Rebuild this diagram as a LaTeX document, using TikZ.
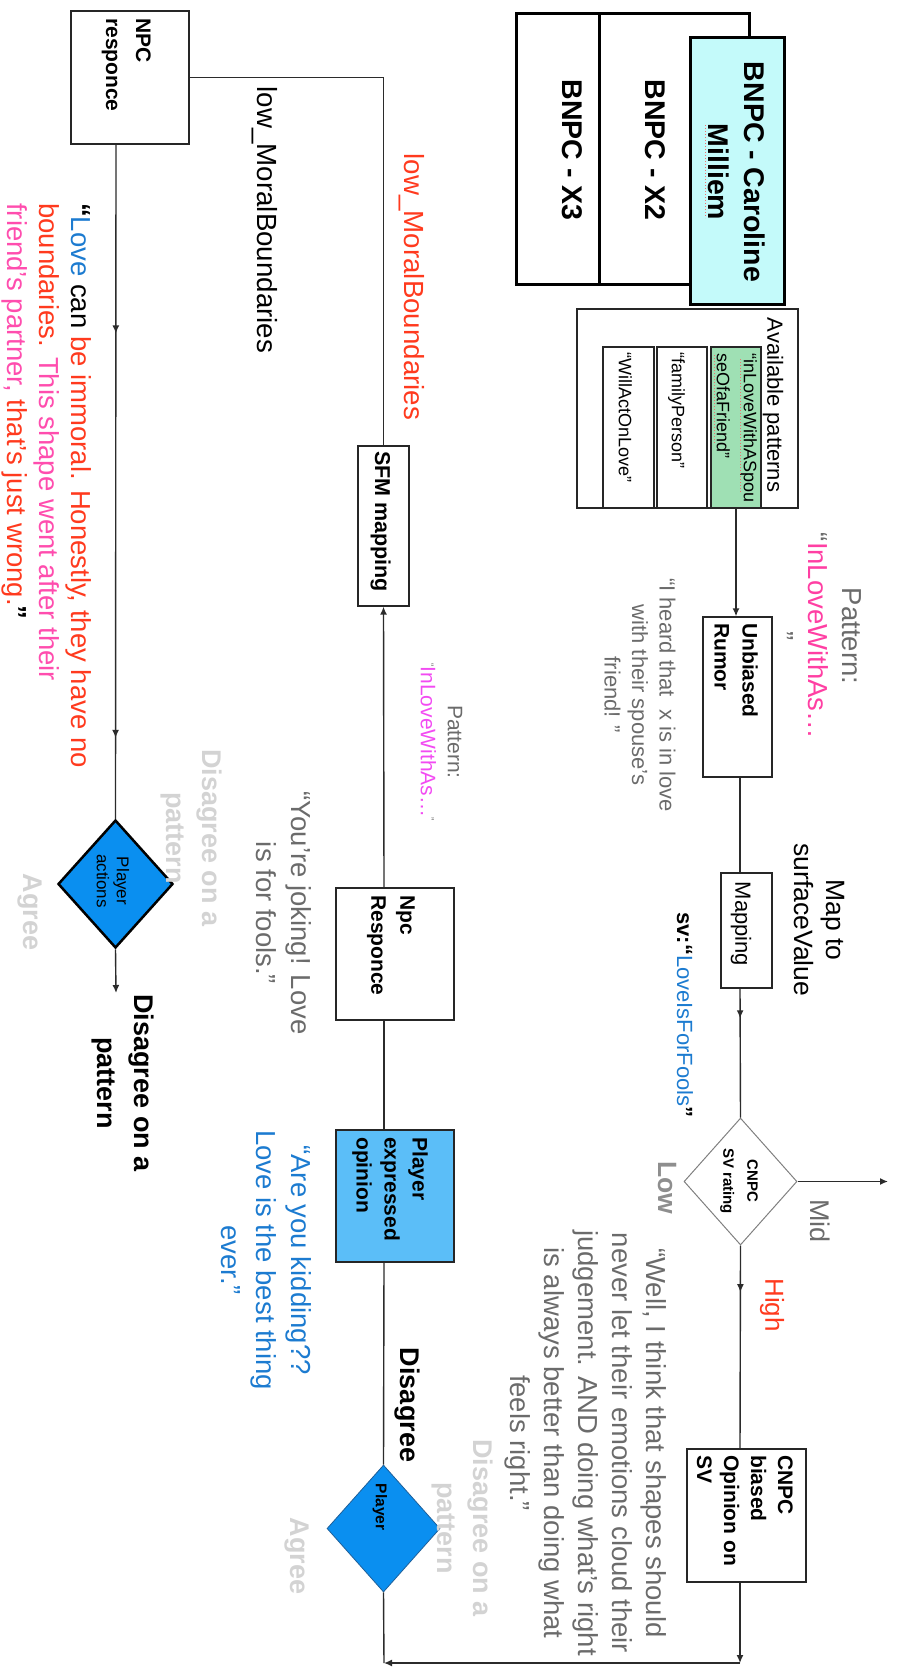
\documentclass[tikz,border=0pt]{standalone}
\usepackage{fontspec}
\setmainfont{Liberation Sans}
\usepackage{xcolor}
\definecolor{lineink}{HTML}{2B2B2B}
\definecolor{talkgray}{HTML}{6B6B6B}
\definecolor{fadegray}{HTML}{D3D3D3}
\definecolor{lowgray}{HTML}{8E8E8E}
\definecolor{hotred}{HTML}{FF3A1E}
\definecolor{hotpink}{HTML}{FF3FA3}
\definecolor{softpink}{HTML}{FF4DAE}
\definecolor{violetpink}{HTML}{F24BF2}
\definecolor{loveblue}{HTML}{1C7BD0}
\definecolor{bnpccyan}{HTML}{C4FAFA}
\definecolor{pickgreen}{HTML}{9FE0B4}
\definecolor{opinblue}{HTML}{5BBEF8}
\definecolor{playblue}{HTML}{0A8FF0}
\definecolor{playedge}{HTML}{1F5F99}
\definecolor{spellred}{HTML}{F07070}
\usepackage{tikz}
\usetikzlibrary{
  arrows.meta,
  shapes.geometric,
  decorations.markings,
}
\newcommand{\sizeat}[2]{\fontsize{#1}{#2}\selectfont}
\newcommand{\tinyquote}[1]{\raisebox{6pt}{\sizeat{10}{10}#1}}

\begin{document}
\begin{tikzpicture}[x=1pt, y=-1pt,
  >={Latex[length=8pt,width=7pt]},
  bnpc/.style={draw=black, line width=3pt, inner sep=0pt},
  stepbox/.style={draw=black!85, line width=1.3pt, fill=white, inner sep=0pt},
  decide/.style={diamond, inner sep=0pt},
  boxtext/.style={rotate=-90, anchor=north west, align=left, inner sep=0pt,
    font=\bfseries\sizeat{21}{28}},
  talk/.style={rotate=-90, align=center, inner sep=0pt, text=talkgray,
    font=\sizeat{27.5}{34}},
  choice/.style={rotate=-90, align=center, inner sep=0pt, text=fadegray,
    font=\bfseries\sizeat{27}{36}},
  conn/.style={draw=lineink, line width=1.4pt},
  arrow/.style={conn, ->},
  midarrow/.style={conn, postaction={decorate},
    decoration={markings, mark=at position #1 with {\arrow{>}}}},
  spelling/.style={draw=spellred, line width=1pt, dotted},
]
  \useasboundingbox (0,0) rectangle (897,1669);
  \coordinate (rcol) at (740,0);
  \coordinate (lcol) at (384,0);
  \coordinate (llcol) at (116,0);

  % Characters
  \node[bnpc, minimum width=83pt, minimum height=271pt] (x3) at (557.5,149.5) {};
  \node[bnpc, minimum width=150pt, minimum height=271pt] (x2) at (674,149.5) {};
  \node[bnpc, fill=bnpccyan, minimum width=94pt, minimum height=267pt]
    (caroline) at (737,171.5) {};
  \node[rotate=-90, inner sep=0pt, font=\bfseries\sizeat{28.5}{36}]
    (x3txt) at (572,150) {BNPC - X3};
  \node[rotate=-90, inner sep=0pt, font=\bfseries\sizeat{28.5}{36}]
    (x2txt) at (655,150) {BNPC - X2};
  \node[rotate=-90, inner sep=0pt, align=center, font=\bfseries\sizeat{28.5}{36}]
    (carolinetxt) at (737,172) {BNPC - Caroline\\Milliem};
  \draw[spelling] (705,125) -- (705,218);

  % Patterns
  \node[stepbox, minimum width=221pt, minimum height=199pt] (patterns) at (687.5,408.5) {};
  \node[rotate=-90, inner sep=0pt, font=\sizeat{22}{26}]
    (patternstitle) at (773,405) {Available patterns};
  \node[stepbox, fill=pickgreen, minimum width=50pt, minimum height=161pt]
    (pspouse) at (736,427.5) {};
  \node[stepbox, minimum width=50pt, minimum height=161pt] (pfamily) at (682,427.5) {};
  \node[stepbox, minimum width=51pt, minimum height=161pt] (pact) at (628.5,427.5) {};
  \node[boxtext, font=\sizeat{18}{27}] (pspousetxt) at (757,353)
    {“inLoveWithASpou\\seOfaFriend”};
  \draw[spelling] (740,359) -- (740,492);
  \draw[spelling] (714,355) -- (714,443);
  \node[boxtext, font=\sizeat{18}{27}] (pfamilytxt) at (685,352) {“familyPerson”};
  \node[boxtext, font=\sizeat{18}{27}] (pacttxt) at (632,352) {“WillActOnLove”};

  % CNPC column
  \node[stepbox, minimum width=69pt, minimum height=160pt] (rumor) at (737.5,697) {};
  \node[boxtext] (rumortxt) at (758,623) {Unbiased\\Rumor};
  \node[stepbox, minimum width=51pt, minimum height=115pt] (mapping) at (746.5,930.5) {};
  \node[rotate=-90, inner sep=0pt, font=\sizeat{22}{26}] (mappingtxt) at (741,924) {Mapping};
  \node[decide, draw=gray, line width=1pt, minimum width=113pt, minimum height=127pt]
    (rating) at (740.5,1181.5) {};
  \node[rotate=-90, inner sep=0pt, align=center, font=\bfseries\sizeat{15}{24}]
    (ratingtxt) at (739,1181) {CNPC\\SV rating};
  \node[stepbox, minimum width=119pt, minimum height=133pt] (opinion) at (746.5,1515.5) {};
  \node[boxtext, font=\bfseries\sizeat{21}{27}] (opiniontxt) at (793,1455)
    {CNPC\\biased\\Opinion on\\SV};
  \coordinate (midend) at (888,1181.5);
  \coordinate (cornerR) at (740,1663);
  \coordinate (cornerL) at (384,1663);

  % Player column
  \node[decide, fill=playblue, draw=playedge, line width=0.8pt,
    minimum width=113pt, minimum height=127pt] (player) at (383.5,1528.5) {};
  \node[rotate=-90, inner sep=0pt, font=\bfseries\sizeat{15.5}{20}] (playertxt) at (380,1507) {Player};
  \node[stepbox, fill=opinblue, minimum width=118pt, minimum height=132pt]
    (popinion) at (395,1196) {};
  \node[boxtext] (popiniontxt) at (428,1137) {Player\\expressed\\opinion};
  \node[stepbox, minimum width=118pt, minimum height=132pt] (npcresp) at (395,954) {};
  \node[boxtext, font=\bfseries\sizeat{21}{29}] (npcresptxt) at (415,895) {Npc\\Responce};
  \node[stepbox, minimum width=51pt, minimum height=160pt] (sfm) at (383.5,526) {};
  \node[boxtext, font=\bfseries\sizeat{21.5}{28}] (sfmtxt) at (391,451) {SFM mapping};

  % NPC column
  \node[stepbox, minimum width=118pt, minimum height=133pt] (npcr) at (130,77.5) {};
  \node[boxtext, font=\bfseries\sizeat{21}{30}] (npcrtxt) at (151,18) {NPC\\responce};
  \node[decide, fill=playblue, draw=black, line width=2.5pt,
    minimum width=115pt, minimum height=128pt] (actions) at (115.5,884) {};
  \node[rotate=-90, inner sep=0pt, align=center, font=\sizeat{17}{20}]
    (actionstxt) at (113,881) {Player\\actions};
  \coordinate (actend) at (116,993);

  % Connections
  \draw[arrow] (pspouse.south) -- (pspouse.south |- rumor.north);
  \draw[conn] (rumor.south -| rcol) -- (mapping.north -| rcol);
  \draw[midarrow=0.23] (mapping.south -| rcol) -- (rating.north);
  \draw[arrow] (rating.east) -- (midend);
  \draw[midarrow=0.23] (rating.south) -- (opinion.north -| rcol);
  \draw[arrow] (opinion.south -| rcol) -- (cornerR);
  \draw[arrow] (cornerR) -- (cornerL);
  \draw[conn] (player.south) -- (cornerL);
  \draw[conn] (player.north) -- (popinion.south -| lcol);
  \draw[conn] (popinion.north -| lcol) -- (npcresp.south -| lcol);
  \draw[arrow] (npcresp.north -| lcol) -- (sfm.south);
  \draw[conn] (sfm.north) |- (npcr.east);
  \draw[conn, postaction={decorate}, decoration={markings,
      mark=at position 0.28 with {\arrow{>}},
      mark=at position 0.88 with {\arrow{>}}}]
    (npcr.south -| llcol) -- (actions.north);
  \draw[arrow] (actions.south) -- (actend);

  % Labels
  \node[talk] (pattern1) at (818,636)
    {Pattern:\\“\textcolor{hotpink}{InLoveWithAs…}\\”};
  \node[talk, font=\sizeat{22}{27.5}] (rumorquote) at (640,695)
    {“I heard that\ \ x is in love\\with their spouse's\\friend! ”};
  \node[talk, text=black, font=\sizeat{26.5}{32}] (maptosv) at (819,920)
    {Map to\\surfaceValue};
  \node[rotate=-90, inner sep=0pt, font=\sizeat{22}{26}] (svlabel) at (685,1015)
    {\textbf{sv:“}\textcolor{loveblue}{LoveIsForFools}\textbf{”}};
  \node[talk, font=\sizeat{27}{32}] (midlabel) at (820,1221) {Mid};
  \node[talk, text=lowgray, font=\bfseries\sizeat{26.5}{32}] (lowlabel) at (667,1188) {Low};
  \node[talk, text=hotred, font=\sizeat{26}{32}] (highlabel) at (772,1305) {High};
  \node[talk] (wellquote) at (586,1443)
    {“Well, I think that shapes should\\never let their emotions cloud their\\
     judgement. AND doing what's right\\is always better than doing what\\feels right.”};
  \node[choice] (pdisagree) at (462,1528) {Disagree on a\\pattern};
  \node[choice] (pagree) at (297,1556) {Agree};
  \node[talk, text=black, font=\bfseries\sizeat{27}{32}] (disagree) at (407,1405) {Disagree};
  \node[talk, text=loveblue, font=\sizeat{27.5}{35}] (kidding) at (266,1260)
    {“Are you kidding??\\Love is the best thing\\ever.”};
  \node[talk, font=\sizeat{21}{27}] (pattern2) at (441.5,742)
    {Pattern:\\\tinyquote{“}\textcolor{violetpink}{InLoveWithAs…}\tinyquote{”}};
  \node[talk, font=\sizeat{27.5}{35}] (joking) at (284,913)
    {“You're joking! Love\\is for fools.”};
  \node[talk, text=hotred, font=\sizeat{27.7}{32}] (lowmoral1) at (412,287) {low\_MoralBoundaries};
  \node[talk, text=black, font=\sizeat{27.7}{32}] (lowmoral2) at (265,220) {low\_MoralBoundaries};
  \node[talk, anchor=north west, align=left, text=black, font=\sizeat{27.5}{32}]
    (immoral) at (92,203)
    {\textbf{“}\textcolor{loveblue}{Love} can \textcolor{hotred}{be immoral. Honestly, they have no}\\
     \textcolor{hotred}{boundaries.} \textcolor{softpink}{This shape went after their}\\
     \textcolor{softpink}{friend's partner,} \textcolor{hotred}{that's just wrong.}\textbf{”}};
  \node[choice] (adisagree) at (191,838) {Disagree on a\\pattern};
  \node[choice] (aagree) at (30,912) {Agree};
  \node[talk, text=black, font=\bfseries\sizeat{27}{37}] (disagreepattern) at (123,1083)
    {Disagree on a\\pattern};
\end{tikzpicture}
\end{document}
